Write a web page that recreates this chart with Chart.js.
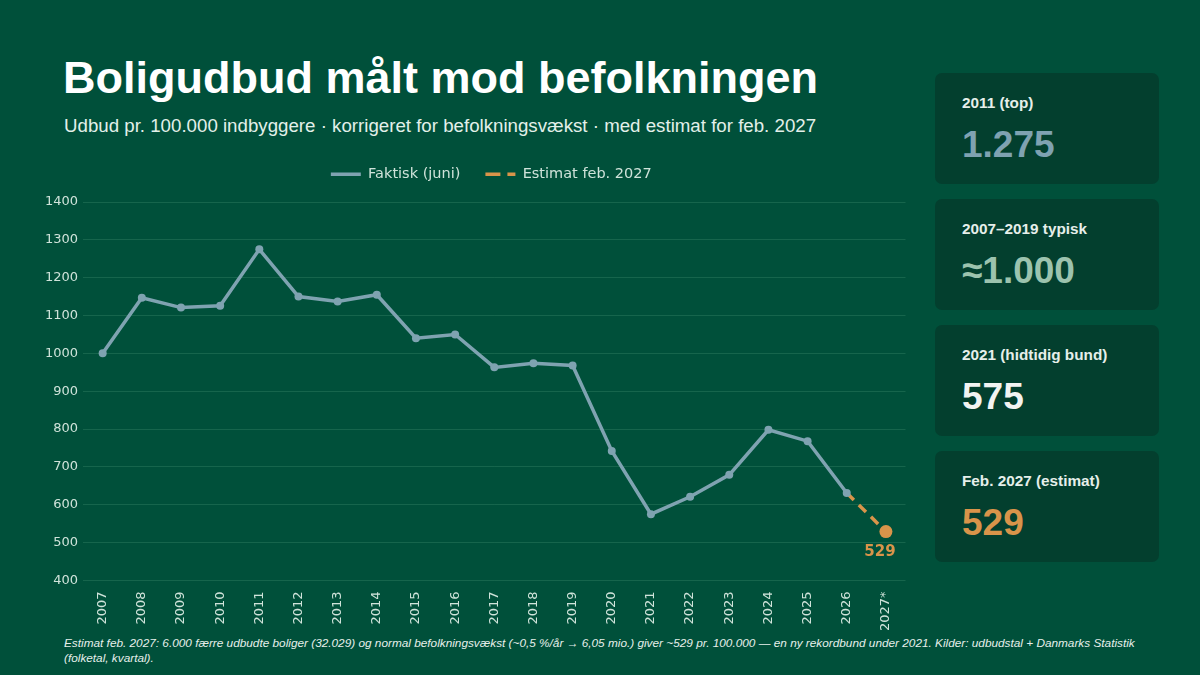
<!DOCTYPE html>
<html><head><meta charset="utf-8">
<script src="https://cdn.jsdelivr.net/npm/chart.js@4"></script>
<style>
html,body{margin:0;padding:0;}
body{width:1200px;height:675px;background:#00503a;position:relative;overflow:hidden;font-family:"Liberation Sans",Arial,sans-serif;}
#title{position:absolute;left:63px;top:52px;font-size:45px;font-weight:bold;color:#ffffff;white-space:nowrap;}
#sub{position:absolute;left:64px;top:115px;font-size:18.7px;color:#e3f0ea;white-space:nowrap;}
#wrap{position:absolute;left:40px;top:142px;width:872px;height:492px;}
.card{position:absolute;left:935px;width:224px;height:111px;background:#033f2e;border-radius:7px;}
.card .lab{position:absolute;left:27px;top:21px;font-size:15.3px;font-weight:bold;color:#e6efea;white-space:nowrap;}
.card .val{position:absolute;left:27px;top:51px;font-size:37px;font-weight:bold;white-space:nowrap;}
#foot{position:absolute;left:64px;top:636px;width:1090px;font-size:11.8px;font-style:italic;color:#e6efea;line-height:15px;}
</style></head>
<body>
<div id="title">Boligudbud målt mod befolkningen</div>
<div id="sub">Udbud pr. 100.000 indbyggere · korrigeret for befolkningsvækst · med estimat for feb. 2027</div>
<div id="wrap"><canvas id="c"></canvas></div>
<div class="card" style="top:73px"><div class="lab">2011 (top)</div><div class="val" style="color:#7fa2b1">1.275</div></div>
<div class="card" style="top:199px"><div class="lab">2007–2019 typisk</div><div class="val" style="color:#9cc3ae">≈1.000</div></div>
<div class="card" style="top:325px"><div class="lab">2021 (hidtidig bund)</div><div class="val" style="color:#f2f4f2">575</div></div>
<div class="card" style="top:451px"><div class="lab">Feb. 2027 (estimat)</div><div class="val" style="color:#d9944a">529</div></div>
<div id="foot">Estimat feb. 2027: 6.000 færre udbudte boliger (32.029) og normal befolkningsvækst (~0,5 %/år → 6,05 mio.) giver ~529 pr. 100.000 — en ny rekordbund under 2021. Kilder: udbudstal + Danmarks Statistik (folketal, kvartal).</div>
<script>
const categories = ["2007","2008","2009","2010","2011","2012","2013","2014","2015","2016","2017","2018","2019","2020","2021","2022","2023","2024","2025","2026","2027*"];
const actualValues = [1000,1147,1121,1126,1275,1150,1137,1155,1040,1050,963,974,968,742,575,621,679,798,768,631,null];
const estimateValues = [null,null,null,null,null,null,null,null,null,null,null,null,null,null,null,null,null,null,null,631,529];
const yTicks = {min:400, max:1400, step:100};
const estimateLabel = "529";

const tickColor = "#cfe3da";
const labelPlugin = {
  id:'estLabel',
  afterDatasetsDraw(chart){
    const ds = chart.data.datasets[1];
    const i = ds.data.length-1;
    const x = chart.scales.x.getPixelForValue(i);
    const y = chart.scales.y.getPixelForValue(ds.data[i]);
    const ctx = chart.ctx;
    ctx.save();
    ctx.font = "bold 15px 'DejaVu Sans'";
    ctx.fillStyle = "#d9944a";
    ctx.textAlign = "center";
    ctx.textBaseline = "middle";
    ctx.fillText(estimateLabel, x-6, y+21);
    ctx.restore();
  }
};
const legendHeight = {
  id:'legendHeight',
  beforeInit(chart){
    const fit = chart.legend.fit;
    chart.legend.fit = function(){ fit.bind(chart.legend)(); this.height = 60; };
  },
  afterLayout(chart){
    chart.legend.left = chart.chartArea.left - 6;
    chart.legend.right = chart.chartArea.right;
  }
};
new Chart(document.getElementById('c'), {
  type:'line',
  data:{
    labels:categories,
    datasets:[
      {label:'Faktisk (juni)', data:actualValues, borderColor:'#7fa3b1', backgroundColor:'#7fa3b1', borderWidth:3.5, pointRadius:4, pointBorderWidth:0, pointHoverRadius:4, tension:0, pointStyle:'circle'},
      {label:'Estimat feb. 2027', data:estimateValues, borderColor:'#d9944a', backgroundColor:'#d9944a', borderWidth:3.5, borderDash:[10,7], pointBorderWidth:0, pointRadius:[0,0,0,0,0,0,0,0,0,0,0,0,0,0,0,0,0,0,0,0,6.5], tension:0, spanGaps:false}
    ]
  },
  options:{
    responsive:true, maintainAspectRatio:false, animation:false,
    layout:{padding:{left:0,right:0,top:0,bottom:0}},
    plugins:{
      legend:{position:'top', labels:{
        usePointStyle:true, pointStyle:'line', pointStyleWidth:30, boxWidth:36, boxHeight:3,
        color:tickColor, font:{family:'DejaVu Sans', size:14.5}, padding:25,
        generateLabels(chart){
          return Chart.defaults.plugins.legend.labels.generateLabels(chart).map((l,i)=>{
            l.lineWidth = 3.5;
            l.strokeStyle = chart.data.datasets[i].borderColor;
            l.lineDash = i===1 ? [15,7] : [];
            return l;
          });
        }
      }},
      tooltip:{enabled:false}
    },
    scales:{
      x:{offset:true, grid:{display:false}, border:{display:false}, ticks:{color:tickColor, font:{family:'DejaVu Sans', size:13}, maxRotation:90, minRotation:90, autoSkip:false}},
      y:{min:yTicks.min, max:yTicks.max, grid:{color:'rgba(120,200,160,0.18)', lineWidth:1, drawTicks:false}, border:{display:false}, ticks:{stepSize:yTicks.step, color:tickColor, font:{family:'DejaVu Sans', size:13}, padding:5, callback:(v)=>String(v)}}
    }
  },
  plugins:[labelPlugin, legendHeight]
});
</script>
</body></html>
